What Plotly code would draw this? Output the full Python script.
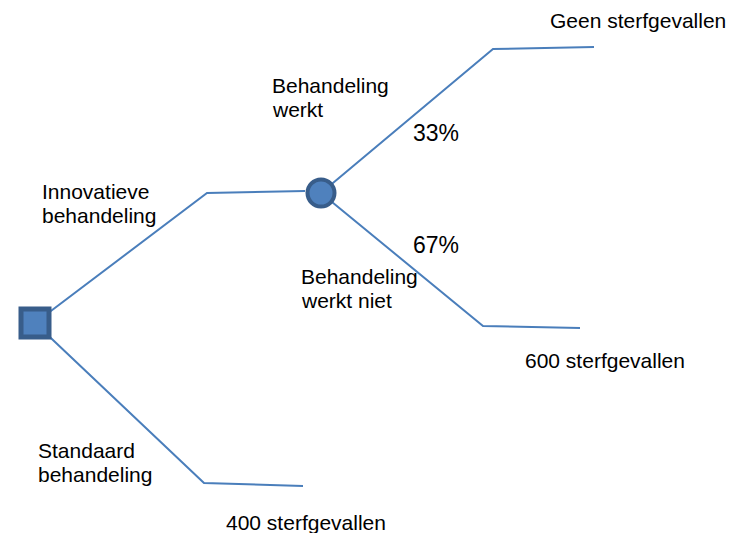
import plotly.graph_objects as go

LINE = "#4a7ebb"
FILL = "#4f81bd"
EDGE = "#385d8a"
FONT = "Liberation Sans, Arial, sans-serif"

# branch paths (x, y in picture pixels, y downwards)
branch_x = [
    [35, 207, 305],      # innovatieve behandeling
    [35, 204, 303],      # standaard behandeling
    [321, 493, 594],     # behandeling werkt
    [321, 483, 580],     # behandeling werkt niet
]
branch_y = [
    [323, 193, 191],
    [323, 483, 486],
    [193, 49, 47],
    [193, 326, 328],
]

# nodes
decision_x, decision_y = [35], [323]
chance_x, chance_y = [321], [193]

# labels: one entry per text line
label_text = ["Geen sterfgevallen", "Behandeling", "werkt", "Innovatieve", "behandeling",
              "Behandeling", "werkt niet", "600 sterfgevallen", "Standaard", "behandeling",
              "400 sterfgevallen"]
label_x = [548, 270, 270, 40, 40, 299, 299, 523, 36, 36, 224]
label_y = [20, 85, 109, 191, 215, 276, 300, 360, 450, 474, 522]

pct_text = ["33%", "67%"]
pct_x = [411, 411]
pct_y = [133, 245]

fig = go.Figure()
for bx, by in zip(branch_x, branch_y):
    fig.add_trace(go.Scatter(x=bx, y=by, mode="lines", line=dict(color=LINE, width=2),
                             hoverinfo="skip"))
fig.add_trace(go.Scatter(x=decision_x, y=decision_y, mode="markers",
                         marker=dict(symbol="square", size=28, color=FILL,
                                     line=dict(color=EDGE, width=5))))
fig.add_trace(go.Scatter(x=chance_x, y=chance_y, mode="markers",
                         marker=dict(symbol="circle", size=27, color=FILL,
                                     line=dict(color=EDGE, width=4))))

for t, x, y in zip(label_text, label_x, label_y):
    fig.add_annotation(x=x, y=y, text=t, showarrow=False, xanchor="left", yanchor="middle",
                       font=dict(size=21, color="black", family=FONT))
for t, x, y in zip(pct_text, pct_x, pct_y):
    fig.add_annotation(x=x, y=y, text=t, showarrow=False, xanchor="left", yanchor="middle",
                       font=dict(size=23, color="black", family=FONT))

fig.update_layout(
    width=744, height=533,
    margin=dict(l=0, r=0, t=0, b=0),
    showlegend=False,
    plot_bgcolor="white", paper_bgcolor="white",
    xaxis=dict(range=[0, 744], visible=False),
    yaxis=dict(range=[533, 0], visible=False),
)
# drop the browser's default page margin so the figure fills the window
fig.write_html("out.html", config={"displayModeBar": False},
               post_script="document.body.style.margin='0';")
